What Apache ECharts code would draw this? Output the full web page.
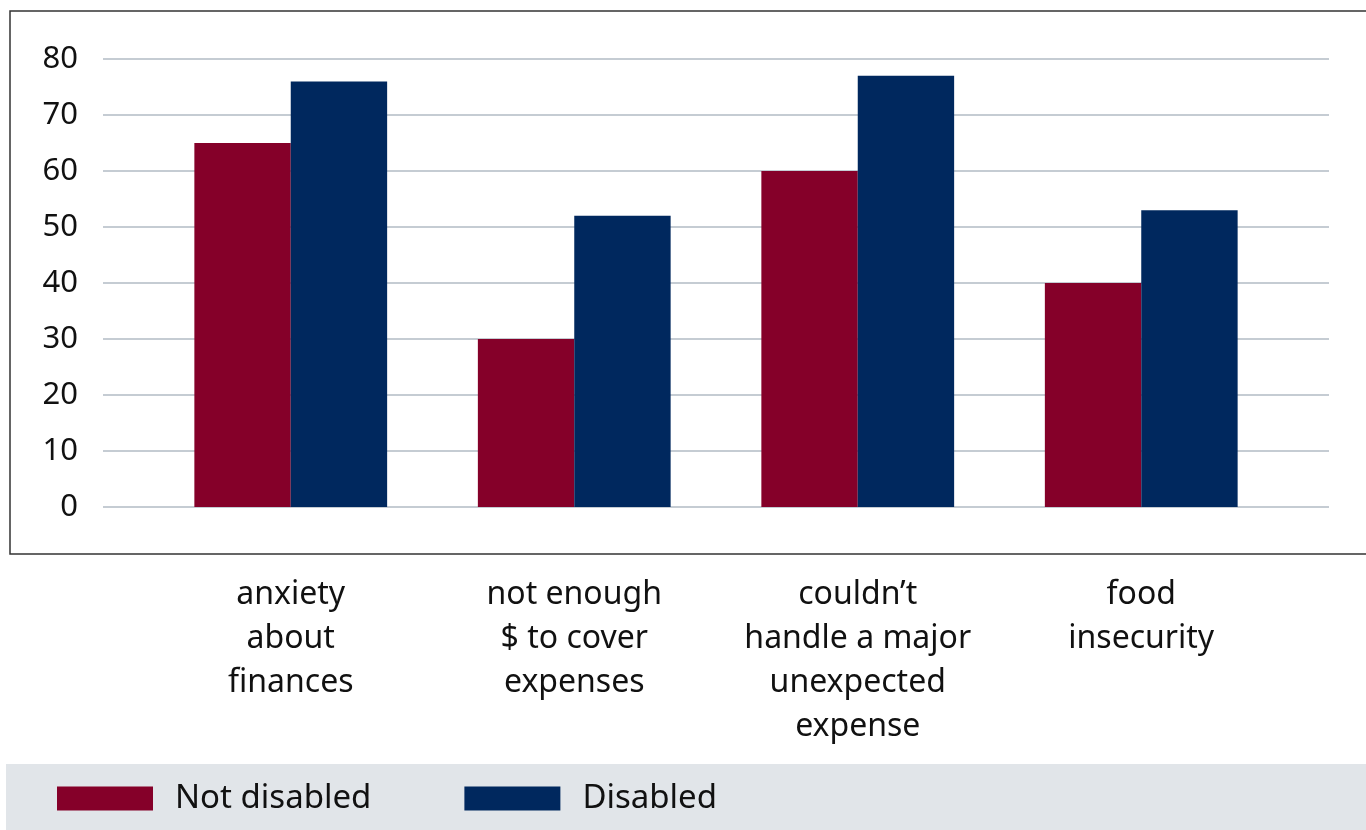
<!DOCTYPE html>
<html><head><meta charset="utf-8">
<script src="https://cdn.jsdelivr.net/npm/echarts@6/dist/echarts.min.js"></script>
<style>html,body{margin:0;padding:0;background:#fff}#c{width:1366px;height:830px}</style>
</head><body><div id="c"></div>
<script>
const categories = ["anxiety\nabout\nfinances", "not enough\n$ to cover\nexpenses", "couldn\u2019t\nhandle a major\nunexpected\nexpense", "food\ninsecurity"];
const notDisabled = [65, 30, 60, 40];
const disabled = [76, 52, 77, 53];
const yTicks = [0, 10, 20, 30, 40, 50, 60, 70, 80];

const FONT = "Noto Sans";
const chart = echarts.init(document.getElementById('c'));
chart.setOption({
  animation: false,
  textStyle: { fontFamily: FONT },
  graphic: [
    { type: 'rect', z: -10, shape: { x: 10, y: 11, width: 1400, height: 543 }, style: { fill: '#fff', stroke: '#333', lineWidth: 1.5 } },
    { type: 'rect', z: -10, shape: { x: 6, y: 764, width: 1400, height: 70 }, style: { fill: '#e1e5e9' } }
  ],
  grid: [
    { left: 103, right: 37, top: 59, height: 448 },
    { left: 149, width: 1134, top: 59, height: 448 }
  ],
  xAxis: [
    { gridIndex: 0, type: 'category', data: categories, show: false },
    { gridIndex: 1, type: 'category', data: categories,
      axisLine: { show: false }, axisTick: { show: false },
      axisLabel: { interval: 0, margin: 66, fontSize: 32, lineHeight: 44, color: '#111', fontFamily: FONT } }
  ],
  yAxis: [
    { gridIndex: 0, type: 'value', min: yTicks[0], max: yTicks[yTicks.length - 1], interval: 10,
      axisLine: { show: false }, axisTick: { show: false },
      axisLabel: { margin: 25, fontSize: 31, color: '#111', fontFamily: FONT },
      splitLine: { lineStyle: { color: '#c5ccd3', width: 2 } } },
    { gridIndex: 1, type: 'value', min: 0, max: 80, interval: 10, show: false, splitLine: { show: false } }
  ],
  legend: {
    left: 57, top: 782, padding: 0, itemWidth: 96, itemHeight: 24, itemGap: 93,
    icon: 'rect',
    textStyle: { fontSize: 33, color: '#111', fontFamily: FONT, padding: [0, 0, 0, 17] },
    data: ['Not disabled', 'Disabled']
  },
  series: [
    { name: 'Not disabled', type: 'bar', xAxisIndex: 1, yAxisIndex: 1, data: notDisabled,
      itemStyle: { color: '#850029' }, barGap: '0%', barCategoryGap: '32%' },
    { name: 'Disabled', type: 'bar', xAxisIndex: 1, yAxisIndex: 1, data: disabled,
      itemStyle: { color: '#00285e' }, barGap: '0%', barCategoryGap: '32%' }
  ]
});
</script></body></html>
